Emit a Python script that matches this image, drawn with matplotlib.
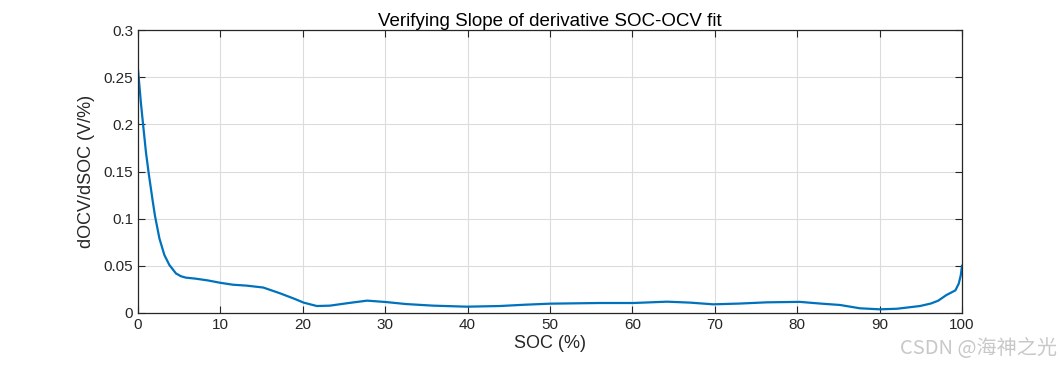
import matplotlib
matplotlib.use("Agg")
import matplotlib.pyplot as plt

soc = [0, 0.36, 0.65, 0.97, 1.3, 1.78, 2.06, 2.6, 3.2, 3.8, 4.6, 5.2, 5.8, 7.0, 8.5,
       10.0, 11.5, 13.2, 15.2, 17.2, 19.0, 20.1, 21.7, 23.3, 25.5, 27.8, 30.0, 32.5, 35.8,
       39.9, 43.9, 47.0, 50.0, 56.0, 60.1, 64.2, 67.0, 69.8, 73.0, 76.3, 80.3, 82.8, 85.2,
       87.6, 90.0, 92.1, 94.9, 96.2, 97.1, 98.1, 99.2, 99.6, 99.85, 100.0]
docv = [0.258, 0.222, 0.197, 0.170, 0.148, 0.119, 0.103, 0.079, 0.0615, 0.051, 0.042,
        0.0390, 0.0375, 0.0364, 0.0345, 0.032, 0.030, 0.029, 0.027, 0.021, 0.015, 0.011,
        0.0074, 0.0078, 0.0105, 0.0131, 0.0117, 0.0095, 0.0078, 0.0067, 0.0074, 0.0088,
        0.0099, 0.0106, 0.0106, 0.0120, 0.0110, 0.0092, 0.0100, 0.0113, 0.0118, 0.0100,
        0.0085, 0.0050, 0.0039, 0.0045, 0.0074, 0.0100, 0.0130, 0.0190, 0.0240, 0.0310,
        0.0400, 0.0500]

xticks = [0, 10, 20, 30, 40, 50, 60, 70, 80, 90, 100]
yticks = [0, 0.05, 0.1, 0.15, 0.2, 0.25, 0.3]
yticklabels = ["0", "0.05", "0.1", "0.15", "0.2", "0.25", "0.3"]

plt.rcParams['font.family'] = ['Liberation Sans', 'DejaVu Sans']

fig = plt.figure(figsize=(10.63, 3.67), dpi=100)
ax = fig.add_axes([138/1063, 1-313/367, (962-138)/1063, (313-30)/367])
ax.plot(soc, docv, color='#0072BD', linewidth=1.6)
ax.set_xlim(0, 100)
ax.set_ylim(0, 0.3)
ax.set_xticks(xticks)
ax.set_yticks(yticks)
ax.set_yticklabels(yticklabels)
ax.grid(True, color='#dcdcdc', linewidth=0.8)
ax.set_axisbelow(True)
ax.tick_params(direction='in', top=True, right=True, length=5, width=0.8,
               labelsize=11, colors='#262626')
for s in ax.spines.values():
    s.set_color('#262626')
    s.set_linewidth(0.9)
ax.set_title("Verifying Slope of derivative SOC-OCV fit", fontsize=13.5, color='#000000', pad=3)
ax.set_xlabel("SOC (%)", fontsize=13, color='#262626', labelpad=2)
ax.set_ylabel("dOCV/dSOC (V/%)", fontsize=13, color='#262626', labelpad=6)

fig.text(1057/1063, 1-348/367, "CSDN @海神之光", ha='right', va='center', fontsize=14.5,
         color='#c8c8c8', family=['Noto Sans CJK SC', 'DejaVu Sans'])

fig.savefig("out.png", dpi=100)
